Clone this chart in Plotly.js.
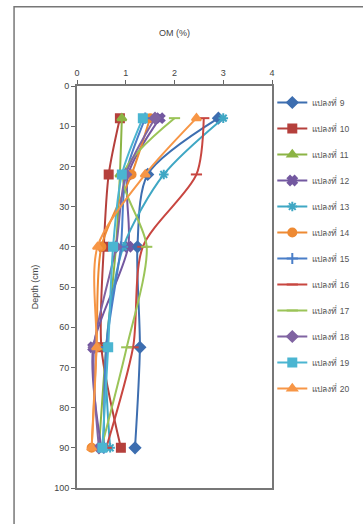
<!DOCTYPE html>
<html><head><meta charset="utf-8">
<script src="https://cdn.plot.ly/plotly-3.0.1.min.js"></script>
<style>html,body{margin:0;padding:0;background:#fff}#c{width:363px;height:524px}</style>
</head><body><div id="c"></div>
<script>
const depth = [8, 22, 40, 65, 90];
const names = ["แปลงที่ 9","แปลงที่ 10","แปลงที่ 11","แปลงที่ 12","แปลงที่ 13","แปลงที่ 14","แปลงที่ 15","แปลงที่ 16","แปลงที่ 17","แปลงที่ 18","แปลงที่ 19","แปลงที่ 20"];
const om9  = [2.9, 1.45, 1.24, 1.29, 1.19];
const om10 = [0.88, 0.65, 0.55, 0.5, 0.9];
const om11 = [0.92, 0.88, 0.8, 0.6, 0.45];
const om12 = [1.7, 1.05, 1.05, 0.33, 0.5];
const om13 = [3.0, 1.78, 0.95, 0.6, 0.68];
const om14 = [1.5, 1.12, 0.5, 0.4, 0.3];
const om15 = [1.4, 1.0, 0.9, 0.6, 0.55];
const om16 = [2.6, 2.45, 1.35, 1.15, 0.6];
const om17 = [2.0, 0.95, 1.43, 1.02, 0.5];
const om18 = [1.6, 1.0, 0.8, 0.35, 0.45];
const om19 = [1.35, 0.92, 0.74, 0.64, 0.52];
const om20 = [2.45, 1.4, 0.42, 0.4, 0.3];
const series = [om9, om10, om11, om12, om13, om14, om15, om16, om17, om18, om19, om20];
const colors = ["#3D6EB0","#B5403C","#8CB445","#7358A0","#3FA7C4","#EE8A33","#4A7EC8","#C84640","#9BC458","#8064A2","#4BB5D1","#F79646"];
const symbols = ["diamond","square","triangle-up","x","asterisk-open","circle","cross-thin-open","line-ew-open","line-ew-open","diamond","square","triangle-up"];
const traces = series.map((s, i) => ({
  x: s, y: depth, name: names[i], type: "scatter", mode: "lines+markers",
  legendgroup: "g" + i,
  line: {color: colors[i], width: 2, shape: "spline", smoothing: 0.8},
  marker: {symbol: symbols[i], size: 8, color: colors[i], line: {color: colors[i], width: 2}}
}));
const layout = {
  width: 363, height: 524,
  margin: {l: 77, r: 5, t: 86, b: 36},
  paper_bgcolor: "#fff", plot_bgcolor: "#fff",
  font: {family: "Liberation Sans, Noto Sans, sans-serif", size: 9, color: "#444"},
  showlegend: true,
  legend: {x: 0.695, xanchor: "left", y: 0.995, yanchor: "top", traceorder: "grouped", tracegroupgap: 7,
           font: {size: 8.5, color: "#555"}, itemwidth: 30, bgcolor: "rgba(0,0,0,0)"},
  xaxis: {domain: [0, 0.694], side: "top", range: [0, 4], dtick: 1, tick0: 0, showgrid: false, zeroline: false,
          ticks: "outside", ticklen: 4, tickcolor: "#666", showline: true, linecolor: "#777", linewidth: 2, mirror: true,
          title: {text: "OM (%)", font: {size: 9, color: "#444"}, standoff: 30}},
  yaxis: {range: [100, 0], dtick: 10, tick0: 0, showgrid: false, zeroline: false,
          ticks: "outside", ticklen: 4, tickcolor: "#666", showline: true, linecolor: "#777", linewidth: 2, mirror: true,
          title: {text: "Depth (cm)", font: {size: 9, color: "#444"}, standoff: 14}},
  shapes: [{type: "rect", xref: "paper", yref: "paper", x0: -0.224, x1: 1.2, y0: -0.2, y1: 1.197,
            line: {color: "#777", width: 1.5}, fillcolor: "rgba(0,0,0,0)"}]
};
Plotly.newPlot("c", traces, layout, {displayModeBar: false, staticPlot: true});
</script></body></html>
